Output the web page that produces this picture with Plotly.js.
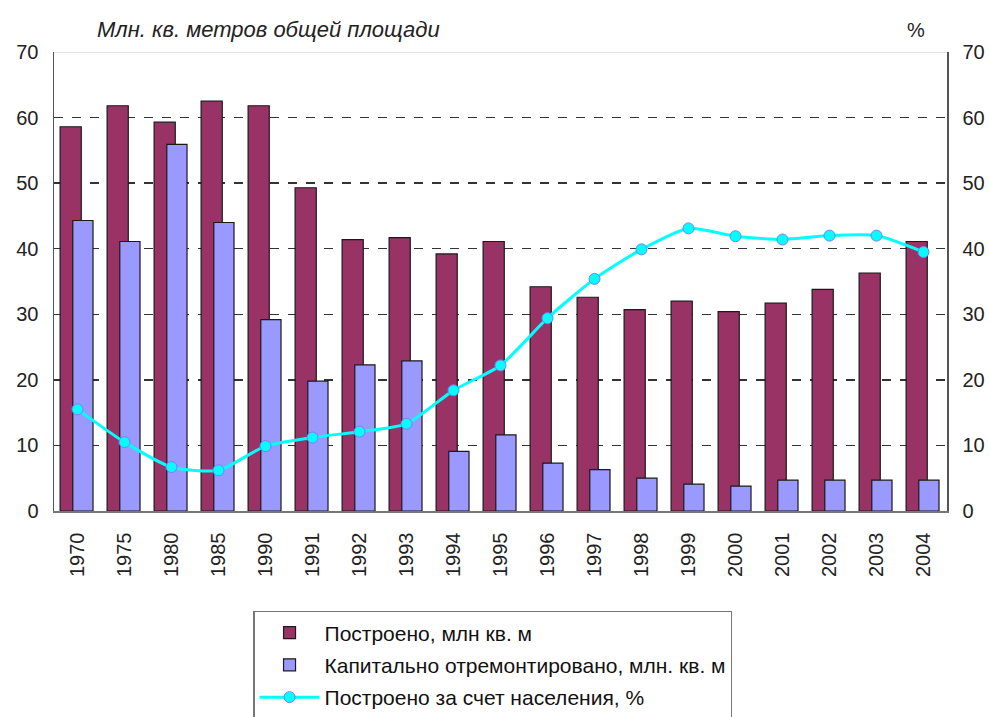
<!DOCTYPE html>
<html><head><meta charset="utf-8">
<script src="https://cdn.plot.ly/plotly-3.0.1.min.js"></script>
<style>html,body{margin:0;padding:0;background:#fff}#chart{width:990px;height:717px}</style>
</head><body><div id="chart"></div>
<script>
const years = ["1970","1975","1980","1985","1990","1991","1992","1993","1994","1995","1996","1997","1998","1999","2000","2001","2002","2003","2004"];
const built = [58.6,61.8,59.3,62.5,61.8,49.3,41.4,41.7,39.2,41.1,34.2,32.6,30.7,32.0,30.4,31.7,33.8,36.3,41.1];
const repaired = [44.3,41.1,55.9,44.0,29.2,19.8,22.3,22.9,9.1,11.6,7.3,6.3,5.0,4.1,3.8,4.7,4.7,4.7,4.7];
const privateShare = [15.5,10.5,6.7,6.2,9.9,11.2,12.1,13.3,18.4,22.2,29.4,35.4,39.9,43.1,41.9,41.4,42.0,42.0,39.5];
const names = ["Построено, млн кв. м","Капитально отремонтировано, млн. кв. м","Построено за счет населения, %"];
const tickVals = [0,10,20,30,40,50,60,70];

const F = "Liberation Sans, Arial, sans-serif";
const traces = [
  {type:"bar", x:years, y:built, name:names[0], legendgroup:"a",
   marker:{color:"#993366", line:{color:"#1a1a1a", width:1.2}}, width:0.45, offset:-0.37, yaxis:"y"},
  {type:"bar", x:years, y:repaired, name:names[1], legendgroup:"b",
   marker:{color:"#9999FF", line:{color:"#1a1a1a", width:1.2}}, width:0.43, offset:-0.1, yaxis:"y"},
  {type:"scatter", mode:"lines+markers", x:years, y:privateShare, name:names[2], legendgroup:"c", yaxis:"y2",
   line:{color:"#00FFFF", width:3, shape:"spline", smoothing:0.6},
   marker:{color:"#00FFFF", size:11, line:{color:"#7B7BFF", width:1}}}
];
const axFont = {family:F, size:20, color:"#222"};
const layout = {
  width:990, height:717,
  margin:{l:54, r:43, t:52, b:206, autoexpand:false},
  paper_bgcolor:"#fff", plot_bgcolor:"#fff",
  barmode:"overlay", showlegend:true,
  font:{family:F},
  xaxis:{type:"category", range:[-0.5,18.5], tickangle:-90, tickfont:axFont, showline:true, linecolor:"#777", linewidth:1.5,
         showgrid:false, ticks:"", ticklabelstandoff:12, fixedrange:true, automargin:false},
  yaxis:{range:[0,70], tickvals:tickVals, tickfont:axFont, showline:true, linecolor:"#555", linewidth:1.5,
         showgrid:true, gridcolor:"#333", gridwidth:1.5, griddash:"dash", zeroline:false, ticks:"",
         ticklabelstandoff:10, automargin:false},
  yaxis2:{range:[0,70], tickvals:tickVals, tickfont:axFont, overlaying:"y", side:"right", showline:true,
          linecolor:"#555", linewidth:1.5, showgrid:false, zeroline:false, ticks:"", ticklabelstandoff:10, automargin:false},
  legend:{xref:"container", yref:"container", x:0.2556, y:0.148, xanchor:"left", yanchor:"top", bgcolor:"#fff",
          bordercolor:"#777", borderwidth:1.5,
          font:{family:F, size:21, color:"#111"}, traceorder:"grouped", tracegroupgap:2, itemwidth:60},
  shapes:[{type:"line", xref:"paper", yref:"y", x0:0, x1:1, y0:70, y1:70, line:{color:"#ddd", width:1.5}}],
  annotations:[
    {text:"<i>Млн. кв. метров общей площади</i>", xref:"paper", yref:"paper", x:0.046, y:1.048, xanchor:"left", yanchor:"middle",
     showarrow:false, font:{family:F, size:22, color:"#222"}},
    {text:"%", xref:"paper", yref:"paper", x:0.965, y:1.048, xanchor:"center", yanchor:"middle",
     showarrow:false, font:{family:F, size:20, color:"#222"}}
  ]
};
Plotly.newPlot("chart", traces, layout, {displayModeBar:false, staticPlot:true});
</script></body></html>
